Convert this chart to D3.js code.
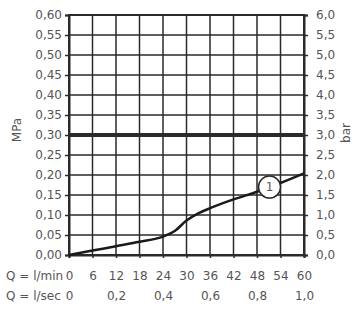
<!DOCTYPE html>
<html>
<head>
<meta charset="utf-8">
<script src="https://cdn.jsdelivr.net/npm/d3@7"></script>
<style>
  body { margin: 0; background: #fff; }
  svg text { font-family: "DejaVu Sans", sans-serif; fill: #555; }
</style>
</head>
<body>
<svg id="chart" width="360" height="313"></svg>
<script>
// flow (l/min) vs pressure loss (MPa)
const flow = [0, 6, 12, 18, 24, 27, 30, 33, 36, 42, 48, 54, 60];
const pressure = [0, 0.011, 0.022, 0.033, 0.046, 0.060, 0.086, 0.104, 0.117, 0.139, 0.158, 0.180, 0.204];

const mpaTicks = [0, 0.05, 0.10, 0.15, 0.20, 0.25, 0.30, 0.35, 0.40, 0.45, 0.50, 0.55, 0.60];
const barTicks = [0, 0.5, 1.0, 1.5, 2.0, 2.5, 3.0, 3.5, 4.0, 4.5, 5.0, 5.5, 6.0];
const minTicks = [0, 6, 12, 18, 24, 30, 36, 42, 48, 54, 60];
const secTicks = [0, 0.2, 0.4, 0.6, 0.8, 1.0];
const limitMPa = 0.30;
const curveLabel = '1';
const labelFlow = 51.2;

const svg = d3.select('#chart');
const plotL = 69, plotR = 304, plotT = 15, plotB = 255;

const x = d3.scaleLinear().domain([0, 60]).range([plotL, plotR]);
const xSec = d3.scaleLinear().domain([0, 1]).range([plotL, plotR]);
const y = d3.scaleLinear().domain([0, 0.6]).range([plotB, plotT]);
const yBar = d3.scaleLinear().domain([0, 6]).range([plotB, plotT]);

const comma = (f) => (d) => d3.format(f)(d).replace('.', ',');

// grid
svg.append('g')
    .selectAll('line')
    .data(minTicks)
    .enter()
    .append('line')
    .attr('x1', (d) => x(d)).attr('x2', (d) => x(d))
    .attr('y1', plotT).attr('y2', plotB)
    .attr('stroke', '#2a2a2a').attr('stroke-width', 1.5);

svg.append('g')
    .selectAll('line')
    .data(mpaTicks)
    .enter()
    .append('line')
    .attr('x1', plotL).attr('x2', plotR)
    .attr('y1', (d) => y(d)).attr('y2', (d) => y(d))
    .attr('stroke', '#2a2a2a').attr('stroke-width', 1.5);

// axes
let leftAxis = svg.append('g')
    .attr('transform', `translate(${plotL},0)`)
    .call(d3.axisLeft(y).tickValues(mpaTicks).tickFormat(comma('.2f')).tickSize(4).tickPadding(3));

let rightAxis = svg.append('g')
    .attr('transform', `translate(${plotR},0)`)
    .call(d3.axisRight(yBar).tickValues(barTicks).tickFormat(comma('.1f')).tickSize(4).tickPadding(8));

let bottomAxis = svg.append('g')
    .attr('transform', `translate(0,${plotB})`)
    .call(d3.axisBottom(x).tickValues(minTicks).tickFormat(d3.format('d')).tickSize(3).tickPadding(13));

let secAxis = svg.append('g')
    .attr('transform', `translate(0,${plotB + 20})`)
    .call(d3.axisBottom(xSec).tickValues(secTicks).tickFormat((d) => d === 0 ? '0' : comma('.1f')(d)).tickSize(0).tickPadding(16));
secAxis.select('.domain').remove();

[leftAxis, rightAxis, bottomAxis, secAxis].forEach((a) => {
    a.selectAll('.domain').attr('stroke', '#2a2a2a').attr('stroke-width', 2);
    a.selectAll('.tick line').attr('stroke', '#2a2a2a').attr('stroke-width', 1.5);
    a.selectAll('text').attr('font-size', 12).style('fill', '#555');
});

// frame
svg.append('rect')
    .attr('x', plotL).attr('y', plotT)
    .attr('width', plotR - plotL).attr('height', plotB - plotT)
    .attr('fill', 'none').attr('stroke', '#2a2a2a').attr('stroke-width', 2);

// limit line
svg.append('line')
    .attr('x1', plotL).attr('x2', plotR)
    .attr('y1', y(limitMPa)).attr('y2', y(limitMPa))
    .attr('stroke', '#2a2a2a').attr('stroke-width', 4);

// curve
let points = flow.map((f, i) => [f, pressure[i]]);
svg.append('path')
    .datum(points)
    .attr('d', d3.line().x((d) => x(d[0])).y((d) => y(d[1])).curve(d3.curveMonotoneX))
    .attr('fill', 'none')
    .attr('stroke', '#1a1a1a')
    .attr('stroke-width', 2.5);

let labelP = d3.scaleLinear().domain(flow).range(pressure)(labelFlow);
let lab = svg.append('g').attr('transform', `translate(${x(labelFlow)},${y(labelP)})`);
lab.append('circle').attr('r', 11).attr('fill', '#fff').attr('stroke', '#2a2a2a').attr('stroke-width', 1.5);
lab.append('text').attr('text-anchor', 'middle').attr('dy', '0.36em').attr('font-size', 12).text(curveLabel);

// titles
svg.append('text')
    .attr('transform', 'translate(21,130) rotate(-90)')
    .attr('text-anchor', 'middle').attr('font-size', 12).text('MPa');
svg.append('text')
    .attr('transform', 'translate(350,133) rotate(-90)')
    .attr('text-anchor', 'middle').attr('font-size', 12).text('bar');
svg.append('text').attr('x', 6).attr('y', plotB + 24.5).attr('font-size', 12).text('Q = l/min');
svg.append('text').attr('x', 6).attr('y', plotB + 44.5).attr('font-size', 12).text('Q = l/sec');
</script>
</body>
</html>
